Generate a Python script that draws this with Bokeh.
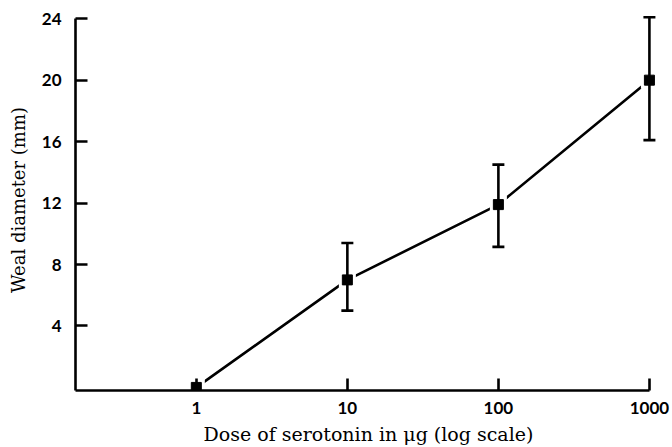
from bokeh.plotting import figure
from bokeh.models import Range1d, FixedTicker, NumeralTickFormatter
from bokeh.embed import file_html
from bokeh.resources import INLINE

# Data
dose = [1, 10, 100, 1000]
diameter = [0.0, 7.0, 11.9, 20.0]
err_dose = [10, 100, 1000]
err_lower = [5.0, 9.15, 16.1]
err_upper = [9.4, 14.5, 24.1]
x_ticks = [1, 10, 100, 1000]
y_ticks = [4, 8, 12, 16, 20, 24]

x_start, x_end = 10 ** -0.8, 10 ** 3.08
y_start, y_end = -0.2, 24.6

p = figure(width=672, height=447, x_axis_type="log",
           x_range=Range1d(x_start, x_end), y_range=Range1d(y_start, y_end),
           output_backend="svg", toolbar_location=None,
           min_border_left=75, min_border_right=11, min_border_top=9, min_border_bottom=0)
p.outline_line_color = None
p.xgrid.visible = False
p.ygrid.visible = False
p.background_fill_color = "white"
p.border_fill_color = "white"

p.line(dose, diameter, line_color="black", line_width=2.6)
p.scatter(dose, diameter, marker="square", size=17, fill_color="white", line_color=None)
p.segment(err_dose, err_lower, err_dose, err_upper, line_color="black", line_width=2.6)
p.scatter(err_dose, err_lower, marker="dash", size=12, line_color="black", line_width=2.6)
p.scatter(err_dose, err_upper, marker="dash", size=12, line_color="black", line_width=2.6)
p.scatter(dose, diameter, marker="square", size=10, fill_color="black", line_color="black")

for ax in (p.xaxis[0], p.yaxis[0]):
    ax.axis_line_width = 2.6
    ax.axis_line_color = "black"
    ax.major_tick_line_width = 2.6
    ax.major_tick_line_color = "black"
    ax.major_tick_in = 12
    ax.major_tick_out = 0
    ax.minor_tick_line_color = None
    ax.major_label_text_font = "Lato"
    ax.major_label_text_font_style = "bold"
    ax.major_label_text_font_size = "17px"
    ax.major_label_text_color = "black"
    ax.axis_label_text_font = "DejaVu Serif"
    ax.axis_label_text_font_style = "normal"
    ax.axis_label_text_color = "black"

p.xaxis.bounds = (x_start, 1000)
p.xaxis.ticker = FixedTicker(ticks=x_ticks)
p.xaxis.formatter = NumeralTickFormatter(format="0")
p.xaxis.major_label_standoff = 11
p.xaxis.axis_label = "Dose of serotonin in μg (log scale)"
p.xaxis.axis_label_text_font_size = "19px"
p.xaxis.axis_label_standoff = 6

p.yaxis.bounds = (y_start, 24)
p.yaxis.ticker = FixedTicker(ticks=y_ticks)
p.yaxis.major_label_standoff = 14
p.yaxis.axis_label = "Weal diameter (mm)"
p.yaxis.axis_label_text_font_size = "18px"
p.yaxis.axis_label_standoff = 10

open("out.html", "w").write(file_html(p, INLINE))
